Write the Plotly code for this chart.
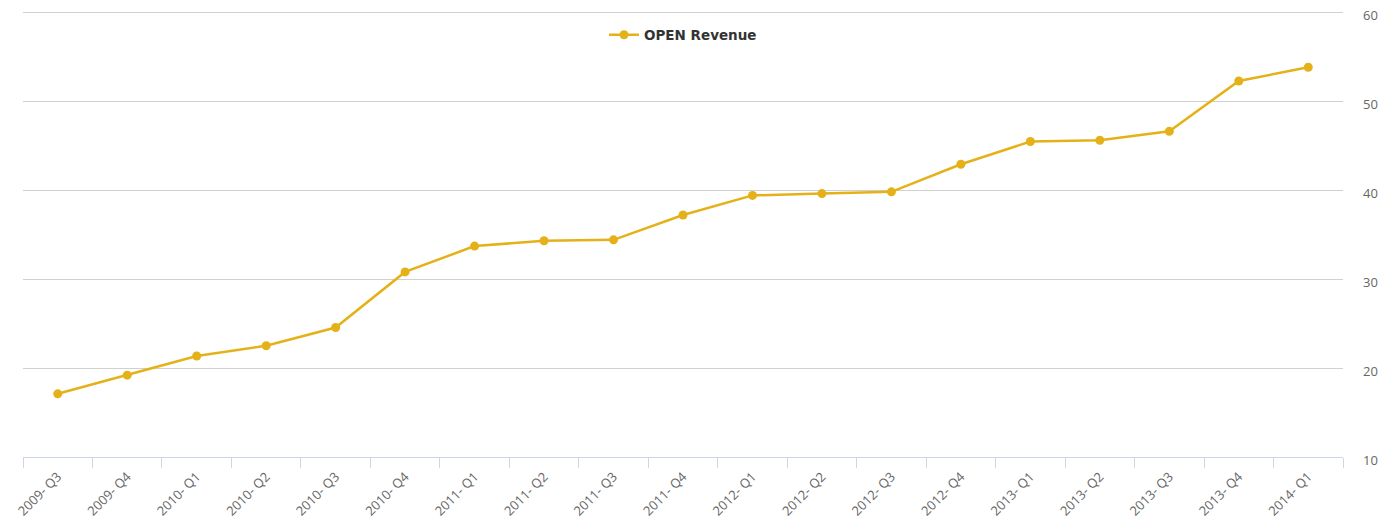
import plotly.graph_objects as go

categories = ["2009- Q3", "2009- Q4", "2010- Q1", "2010- Q2", "2010- Q3", "2010- Q4",
              "2011- Q1", "2011- Q2", "2011- Q3", "2011- Q4", "2012- Q1", "2012- Q2",
              "2012- Q3", "2012- Q4", "2013- Q1", "2013- Q2", "2013- Q3", "2013- Q4",
              "2014- Q1"]
open_revenue = [17.1, 19.2, 21.35, 22.5, 24.55, 30.8, 33.7, 34.3, 34.4, 37.2,
                39.4, 39.6, 39.8, 42.9, 45.45, 45.6, 46.6, 52.25, 53.8]
y_ticks = [10, 20, 30, 40, 50, 60]

# the page body adds an 8px offset; figure coords = page coords - 8
OFF = 8
W, H = 1397, 524
L, R, T, B = 23 - OFF, 54 + OFF, 11 - OFF, 67 + OFF
pw, ph = W - L - R, H - T - B

def px_y(y):
    return (H - B - (y - OFF)) / ph

fig = go.Figure()
fig.add_trace(go.Scatter(
    x=categories, y=open_revenue, mode="lines+markers", name="OPEN Revenue",
    line=dict(color="#e5b118", width=2.5),
    marker=dict(color="#e5b118", size=9),
))

fig.update_layout(
    width=W, height=H,
    margin=dict(l=L, r=R, t=T, b=B, autoexpand=False),
    paper_bgcolor="white", plot_bgcolor="white",
    font=dict(family="DejaVu Sans", size=11, color="#666666"),
    showlegend=True,
    legend=dict(orientation="h", x=0.5, xanchor="center", y=px_y(35), yanchor="middle",
                font=dict(family="DejaVu Sans", size=13.5, color="#333333", weight="bold"),
                bgcolor="rgba(0,0,0,0)", itemwidth=30),
    xaxis=dict(
        type="category", tickson="boundaries", ticks="outside", ticklen=10,
        tickcolor="#ccd6eb", tickwidth=1, automargin=False,
        showline=True, linecolor="#ccd6eb", linewidth=1,
        showgrid=False, tickangle=-45, ticklabelstandoff=6,
        tickfont=dict(family="Open Sans", size=13, color="#666666"),
        range=[-0.5, len(categories) - 0.5],
    ),
    yaxis=dict(
        side="right", range=[10, 60.12], tickvals=y_ticks, automargin=False,
        showgrid=True, gridcolor="#d0d0d0", gridwidth=1,
        zeroline=False, showline=False, ticks="",
        ticklabelstandoff=19, ticklabeloverflow="allow", ticklabelshift=3,
        tickfont=dict(family="Open Sans", size=13, color="#666666"),
    ),
)

fig.write_html("out.html")
